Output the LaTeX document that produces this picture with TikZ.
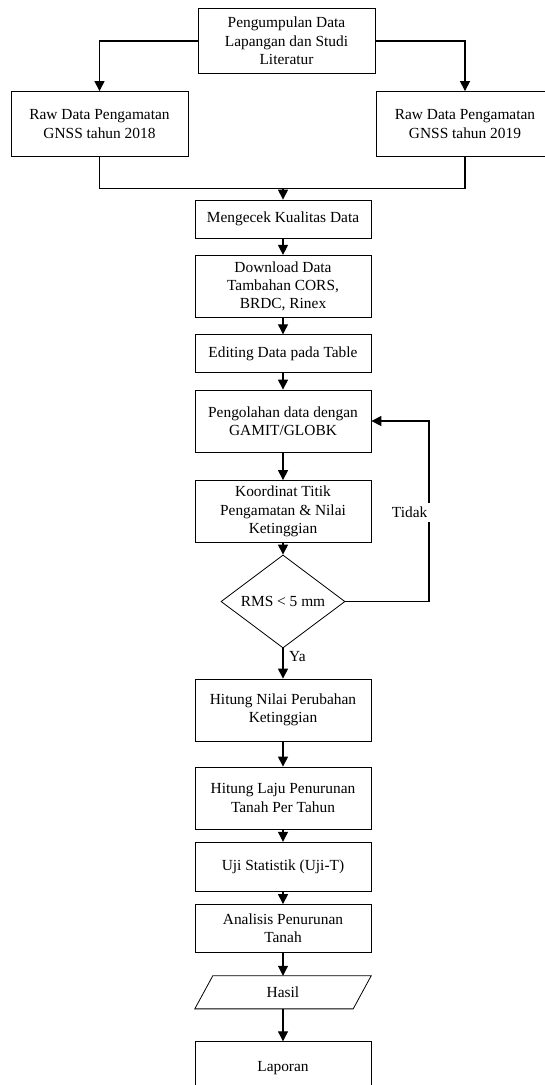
\documentclass[tikz,border=0pt]{standalone}
\usepackage{fontspec}
\setmainfont{Liberation Serif}
\usetikzlibrary{arrows.meta,shapes.geometric}
\newcommand\diafont{\fontsize{15.4}{18.3}\selectfont}
\begin{document}
\begin{tikzpicture}[x=1pt,y=-1pt,
  box/.style={draw, line width=0.8pt, rectangle, minimum width=176pt, align=center, inner sep=0pt, font=\diafont},
  arr/.style={line width=1.1pt, -{Triangle[length=10pt,width=10pt]}},
  ln/.style={line width=1.1pt},
  lbl/.style={font=\diafont, inner sep=0pt}]
\path[use as bounding box, fill=white] (0,0) rectangle (545,1085);
\clip (0,0) rectangle (545,1085);
% nodes
\node[box, minimum width=177pt, minimum height=65pt] (top) at (286.5,41) {Pengumpulan Data\\Lapangan dan Studi\\Literatur};
\node[box, minimum width=177pt, minimum height=65pt] (left) at (99.5,124) {Raw Data Pengamatan\\GNSS tahun 2018};
\node[box, minimum width=177pt, minimum height=65pt] (right) at (465,124) {Raw Data Pengamatan\\GNSS tahun 2019};
\node[box, minimum height=38pt] (cek) at (283,219) {Mengecek Kualitas Data};
\node[box, minimum height=62pt] (dl) at (283,286.3) {Download Data\\Tambahan CORS,\\BRDC, Rinex};
\node[box, minimum height=37.6pt] (edit) at (283,353.5) {Editing Data pada Table};
\node[box, minimum height=62pt] (olah) at (283,421) {Pengolahan data dengan\\GAMIT/GLOBK};
\node[box, minimum height=62pt] (koord) at (283,511.5) {Koordinat Titik\\Pengamatan \& Nilai\\Ketinggian};
\node[draw, diamond, aspect=1.33, line width=0.8pt, minimum width=124pt, minimum height=93pt, inner sep=0pt, font=\diafont] (rms) at (283,601.5) {RMS < 5 mm};
\node[box, minimum height=62pt] (nilai) at (283,710) {Hitung Nilai Perubahan\\Ketinggian};
\node[box, minimum height=62pt] (laju) at (283,798) {Hitung Laju Penurunan\\Tanah Per Tahun};
\node[box, minimum height=49pt] (uji) at (283,866.7) {Uji Statistik (Uji-T)};
\node[box, minimum height=48pt] (anal) at (283,928.5) {Analisis Penurunan\\Tanah};
\node[minimum width=176pt, minimum height=32.7pt, inner sep=0pt, font=\diafont] (hasil) at (283,992.3) {Hasil};
\draw[line width=0.8pt] ([xshift=18pt]hasil.north west) -- (hasil.north east) -- ([xshift=-18pt]hasil.south east) -- (hasil.south west) -- cycle;
\node[box, minimum height=52pt] (lap) at (283,1067.7) {Laporan};
% connectors
\coordinate (m) at (283,188.7);
\coordinate (lp) at (429,601.5);
\draw[arr] (top.west) -| (left.north);
\draw[arr] (top.east) -| (right.north);
\draw[ln] (left.south) |- (m) -| (right.south);
\draw[arr] (m) -- (cek.north);
\draw[arr] (cek) -- (dl);
\draw[arr] (dl) -- (edit);
\draw[arr] (edit) -- (olah);
\draw[arr] (olah) -- (koord);
\draw[arr] (koord) -- (rms);
\draw[arr] (rms.east) -- (lp) |- (olah.east);
\draw[arr] (rms.south) -- (nilai.north);
\draw[arr] (nilai) -- (laju);
\draw[arr] (laju) -- (uji);
\draw[arr] (uji) -- (anal);
\draw[arr] (anal.south) -- (hasil.north);
\draw[arr] (hasil.south) -- (lap.north);
% labels
\node[lbl, anchor=east, fill=white, inner xsep=3pt, text height=11pt, text depth=0pt, inner ysep=4pt] (tidak) at (430.5,512) {Tidak};
\node[lbl, anchor=west] (ya) at (289,657) {Ya};
\end{tikzpicture}
\end{document}
